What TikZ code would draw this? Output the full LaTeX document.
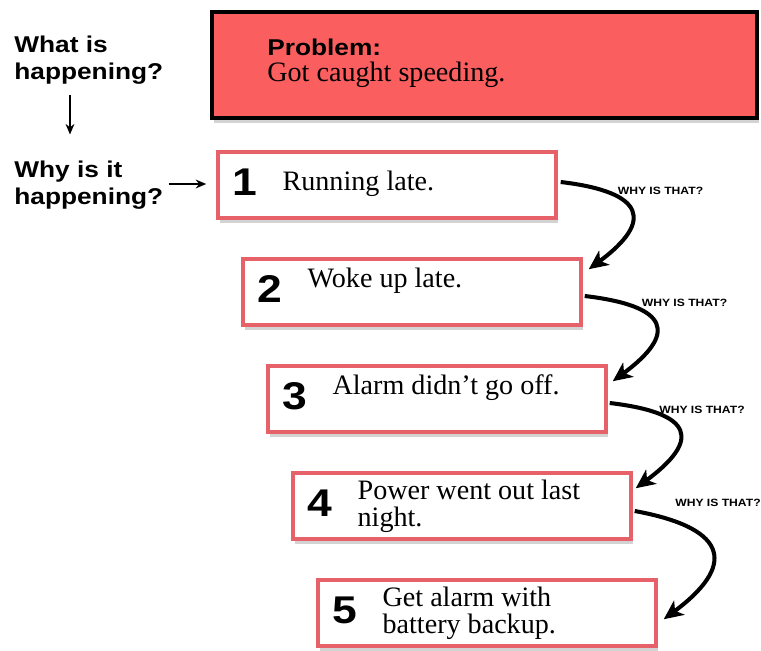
\documentclass[tikz,border=0pt]{standalone}
\usepackage{fontspec}
\setmainfont{Liberation Serif}
\newfontfamily\headfont[FakeStretch=1.15]{Liberation Sans}
\usetikzlibrary{arrows.meta,shadows,calc}

\definecolor{probred}{RGB}{250,94,94}
\definecolor{boxred}{RGB}{230,98,104}

\begin{document}
\begin{tikzpicture}[x=0.02cm,y=0.02cm]
% Styles
\tikzset{problem box/.style={draw=black,line width=2.2pt,fill=probred,minimum width=10.9cm,minimum height=2.12cm,
    drop shadow={shadow xshift=1pt,shadow yshift=-3pt,opacity=.35}},
  cause box/.style={draw=boxred,line width=2pt,fill=white,minimum width=6.76cm,minimum height=1.32cm,
    drop shadow={shadow xshift=1pt,shadow yshift=-3pt,opacity=.35}},
  cause text/.style={anchor=west,inner sep=0pt,align=left,font=\fontsize{16pt}{15.5pt}\selectfont},
  big number/.style={inner sep=0pt,font=\headfont\bfseries\fontsize{22pt}{22pt}\selectfont},
  side label/.style={anchor=west,inner sep=0pt,align=left,font=\headfont\bfseries\fontsize{13pt}{15.3pt}\selectfont},
  why label/.style={inner sep=0pt,font=\headfont\bfseries\fontsize{6pt}{7pt}\selectfont},
  why arrow/.style={line width=2.3pt,-{Stealth[length=11pt,width=10pt,inset=3pt]}},
  small arrow/.style={line width=1.1pt,-{Stealth[length=6pt,width=5pt]}}}

\useasboundingbox (0,0) rectangle (761,650);

% Problem
\node[problem box] (prob) at (484.5,585) {};
\node[anchor=west,inner sep=0pt,align=left,font=\fontsize{16pt}{15pt}\selectfont] (probtext) at (267,587)
  {{\headfont\bfseries\fontsize{13pt}{13pt}\selectfont Problem:}\\Got caught speeding.};

% Causes
\foreach \i/\dy/\txt in {1/1/{Running late.},2/11/{Woke up late.},3/11/{Alarm didn't go off.},
    4/0/{Power went out last\\night.},5/0/{Get alarm with\\battery backup.}}{
  \node[cause box] (b\i) at ({387+(\i-1)*25},{465-(\i-1)*107}) {};
  \node[big number] (n\i) at ($(b\i.west)+(29,3)$) {\i};
  \node[cause text] (t\i) at ($(b\i.west)+(66,\dy)$) {\txt};
}

% Side labels
\node[side label] (what) at (14,590) {What is\\happening?};
\node[side label] (why) at (14,465) {Why is it\\happening?};
\draw[small arrow] ($(what.south west)+(56,-11)$) -- ($(why.north west)+(56,26)$);
\draw[small arrow] ($(why.east)+(5,1)$) -- ($(b1.west)+(-10,1)$);

% Why is that?
\node[why label] (w1) at (660.5,459) {WHY IS THAT?};
\node[why label] (w2) at (684.5,347) {WHY IS THAT?};
\node[why label] (w3) at (702,240) {WHY IS THAT?};
\node[why label] (w4) at (718,147) {WHY IS THAT?};

\draw[why arrow] ($(b1.east)+(3,3)$) .. controls +(85,-10) and +(65,48) .. ($(b2.north east)+(6,-12)$);
\draw[why arrow] ($(b2.east)+(2,-4)$) .. controls +(85,-10) and +(65,48) .. ($(b3.north east)+(5,-17)$);
\draw[why arrow] ($(b3.east)+(2,-4)$) .. controls +(85,-10) and +(65,48) .. ($(b4.north east)+(3,-17)$);
\draw[why arrow] ($(b4.east)+(2,-5)$) .. controls +(98,-18) and +(70,52) .. ($(b5.north east)+(6,-41)$);

\end{tikzpicture}
\end{document}
